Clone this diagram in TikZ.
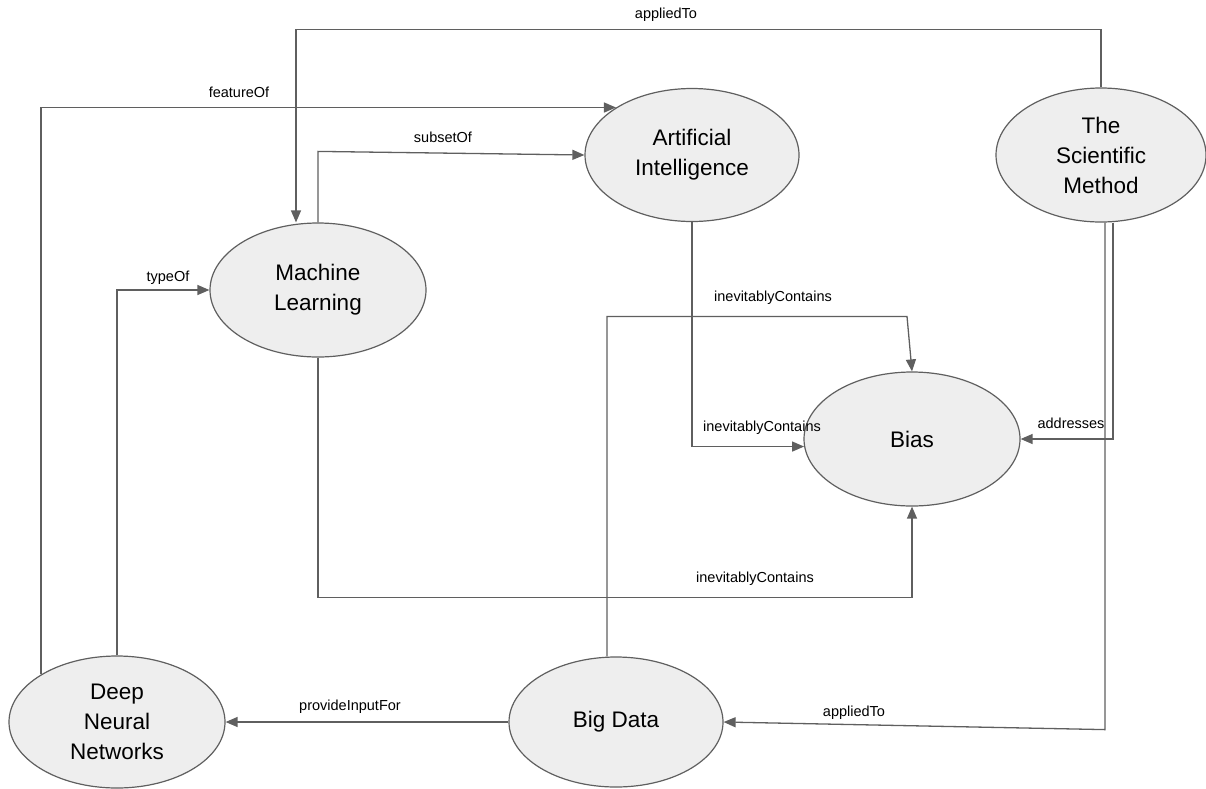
\documentclass[tikz,border=0pt]{standalone}
\usepackage{fontspec}
\setmainfont{Liberation Sans}
\usetikzlibrary{arrows.meta,shapes.geometric}
\definecolor{edgegray}{HTML}{5F5F5F}
\definecolor{nodegray}{HTML}{EEEEEE}
\begin{document}
\begin{tikzpicture}[x=1pt,y=-1pt,
        concept/.style={ellipse,draw=edgegray,fill=nodegray,line width=1.2pt,inner sep=0pt,
                align=center,font=\fontsize{22.5}{30}\selectfont},
        rel/.style={draw=edgegray,line width=1.3pt,-{Triangle[length=12pt,width=10pt]}},
        lbl/.style={font=\fontsize{14.5}{16}\selectfont,inner sep=0pt}]
                \useasboundingbox (0,0) rectangle (1206,788);
                % concepts
                \node[concept,minimum width=214pt,minimum height=133pt] (ai) at (692,155) {Artificial\\Intelligence};
                \node[concept,minimum width=210pt,minimum height=134pt] (sm) at (1101,155) {The\\Scientific\\Method};
                \node[concept,minimum width=216pt,minimum height=134pt] (ml) at (318,290) {Machine\\Learning};
                \node[concept,minimum width=216pt,minimum height=134pt] (bias) at (912,439) {Bias};
                \node[concept,minimum width=216pt,minimum height=132pt] (dnn) at (117,722) {Deep\\Neural\\Networks};
                \node[concept,minimum width=214pt,minimum height=130pt] (bd) at (616,722) {Big Data};
                % relations
                \draw[rel] (sm.north) -- ++(0,-58) -| ([xshift=-22pt]ml.north);
                \node[lbl] (l-applied) at (666,15) {appliedTo};
                \draw[rel] (dnn.148) |- (ai.148);
                \node[lbl] (l-feature) at (239,92) {featureOf};
                \draw[rel] (ml.north) -- ++(0,-71) -- (ai.west);
                \node[lbl] (l-subset) at (443,137) {subsetOf};
                \draw[rel] (dnn.north) |- (ml.west);
                \node[lbl] (l-type) at (168,278) {typeOf};
                \draw[rel] ([xshift=-9pt]bd.north) -- ++(0,-340) -- ++(300,0) -- (bias.north);
                \node[lbl] (l-bd-bias) at (773,298) {inevitablyContains};
                \draw[rel] (ai.south) |- (bias.184);
                \node[lbl] (l-ai-bias) at (762,428) {inevitablyContains};
                \draw[rel] ([xshift=12pt]sm.south) |- (bias.east);
                \node[lbl] (l-addr) at (1071,423) {addresses};
                \draw[rel] (ml.south) -- ++(0,240) -| (bias.south);
                \node[lbl] (l-ml-bias) at (755,579) {inevitablyContains};
                \draw[rel] (bd.west) -- (dnn.east);
                \node[lbl] (l-input) at (350,707) {provideInputFor};
                \draw[rel] ([xshift=4pt]sm.south) -- ++(0,507) -- (bd.east);
                \node[lbl] (l-applied2) at (854,713) {appliedTo};
        \end{tikzpicture}
\end{document}
